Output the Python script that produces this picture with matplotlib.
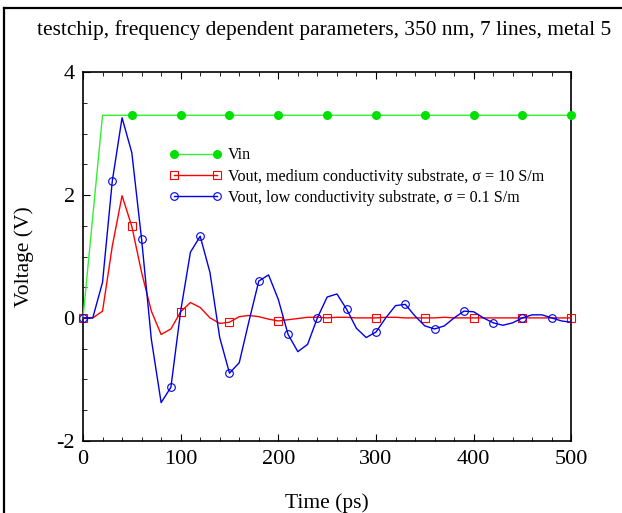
import numpy as np
import matplotlib.pyplot as plt
from matplotlib.lines import Line2D
from matplotlib.ticker import MultipleLocator

plt.rcParams['font.family'] = ['Liberation Serif', 'DejaVu Serif']
plt.rcParams['axes.unicode_minus'] = False

# --- data (sampled every 10 ps) ---
time = np.arange(0, 510, 10)

vin = [0.0, 1.65] + [3.3] * 49

vout_medium = [0.0, 0.0, 0.11, 1.17, 1.99, 1.49, 0.74, 0.11, -0.27, -0.18,
               0.10, 0.25, 0.17, 0.0, -0.09, -0.07, 0.02, 0.04, 0.02, -0.02,
               -0.05, -0.03, -0.01, 0.01, 0.01, 0.0, 0.01, 0.01, 0.0, 0.0,
               0.0, 0.01, 0.01, 0.0, 0.0, 0.0, 0.0, 0.01, 0.0, 0.0,
               0.0, 0.0, 0.0, 0.0, 0.0, 0.0, 0.0, 0.0, 0.0, 0.0, 0.0]

vout_low = [0.0, 0.0, 0.58, 2.23, 3.26, 2.69, 1.28, -0.35, -1.38, -1.13,
            0.11, 1.07, 1.33, 0.74, -0.32, -0.90, -0.73, -0.05, 0.60, 0.70,
            0.30, -0.27, -0.55, -0.43, 0.0, 0.34, 0.39, 0.14, -0.17, -0.32,
            -0.23, 0.0, 0.20, 0.22, 0.03, -0.13, -0.18, -0.13, 0.0, 0.11,
            0.10, 0.0, -0.08, -0.12, -0.08, 0.0, 0.05, 0.05, 0.0, -0.05, -0.07]

green_line = '#33f033'
green = '#00e000'
red = '#ff0000'
blue = '#0000e6'

fig = plt.figure(figsize=(6.22, 5.13), dpi=100)
ax = fig.add_axes([83 / 622, 1 - 440.7 / 513, (571.3 - 83) / 622, (440.7 - 72.3) / 513])

ax.plot(time, vin, color=green_line, lw=1.0, marker='o', markevery=slice(5, None, 5),
        ms=5.5, mfc=green, mec=green, clip_on=False, zorder=3)
ax.plot(time, vout_medium, color=red, lw=1.0, marker='s', markevery=5,
        ms=5.5, mfc='none', mec=red, mew=0.8, clip_on=False, zorder=4)
ax.plot(time, vout_low, color=blue, lw=1.0, marker='o', markevery=3,
        ms=5.5, mfc='none', mec=blue, mew=0.8, clip_on=False, zorder=5)

ax.set_xlim(0, 500)
ax.set_ylim(-2, 4)
ax.xaxis.set_major_locator(MultipleLocator(100))
ax.xaxis.set_minor_locator(MultipleLocator(20))
ax.yaxis.set_major_locator(MultipleLocator(2))
ax.yaxis.set_minor_locator(MultipleLocator(0.5))
ax.tick_params(which='both', direction='in', top=True, right=False, labelsize=16)
ax.tick_params(which='major', length=5, width=0.8)
ax.tick_params(which='minor', length=3, width=0.6)
ax.tick_params(axis='x', pad=7)
ax.tick_params(axis='y', pad=6)
for s in ax.spines.values():
    s.set_linewidth(1.2)

ax.set_xlabel('Time (ps)', fontsize=15.5)
ax.set_ylabel('Voltage (V)', fontsize=15.5)
ax.xaxis.set_label_coords(0.5, (440.7 - 503) / 368.4)
ax.xaxis.label.set_va('center')
ax.yaxis.set_label_coords((24 - 83) / 488.3, 0.5)
ax.yaxis.label.set_va('center')

# legend
handles = [
    Line2D([], [], color=green_line, lw=1.0, marker='o', ms=5.5, mfc=green, mec=green),
    Line2D([], [], color=red, lw=1.0, marker='s', ms=5.5, mfc='none', mec=red, mew=0.8),
    Line2D([], [], color=blue, lw=1.0, marker='o', ms=5.5, mfc='none', mec=blue, mew=0.8),
]
labels = ['Vin',
          'Vout, medium conductivity substrate, \u03c3 = 10 S/m',
          'Vout, low conductivity substrate, \u03c3 = 0.1 S/m']
ax.legend(handles, labels, loc='upper left', bbox_to_anchor=(0.159, 0.818),
          frameon=False, fontsize=11.6, numpoints=2, handlelength=3.3,
          handletextpad=0.37, labelspacing=0.33, borderpad=0)

fig.text(324.5 / 622, 1 - 30 / 513, 'testchip, frequency dependent parameters, 350 nm, 7 lines, metal 5',
         ha='center', va='center', fontsize=15.4)

# outer frame (left and top edges visible)
fig.add_artist(Line2D([4 / 622, 4 / 622], [0, 1 - 8 / 513], color='black', lw=1.6,
                      transform=fig.transFigure))
fig.add_artist(Line2D([4 / 622, 1], [1 - 8 / 513, 1 - 8 / 513], color='black', lw=1.6,
                      transform=fig.transFigure))

fig.savefig('out.png', dpi=100)
